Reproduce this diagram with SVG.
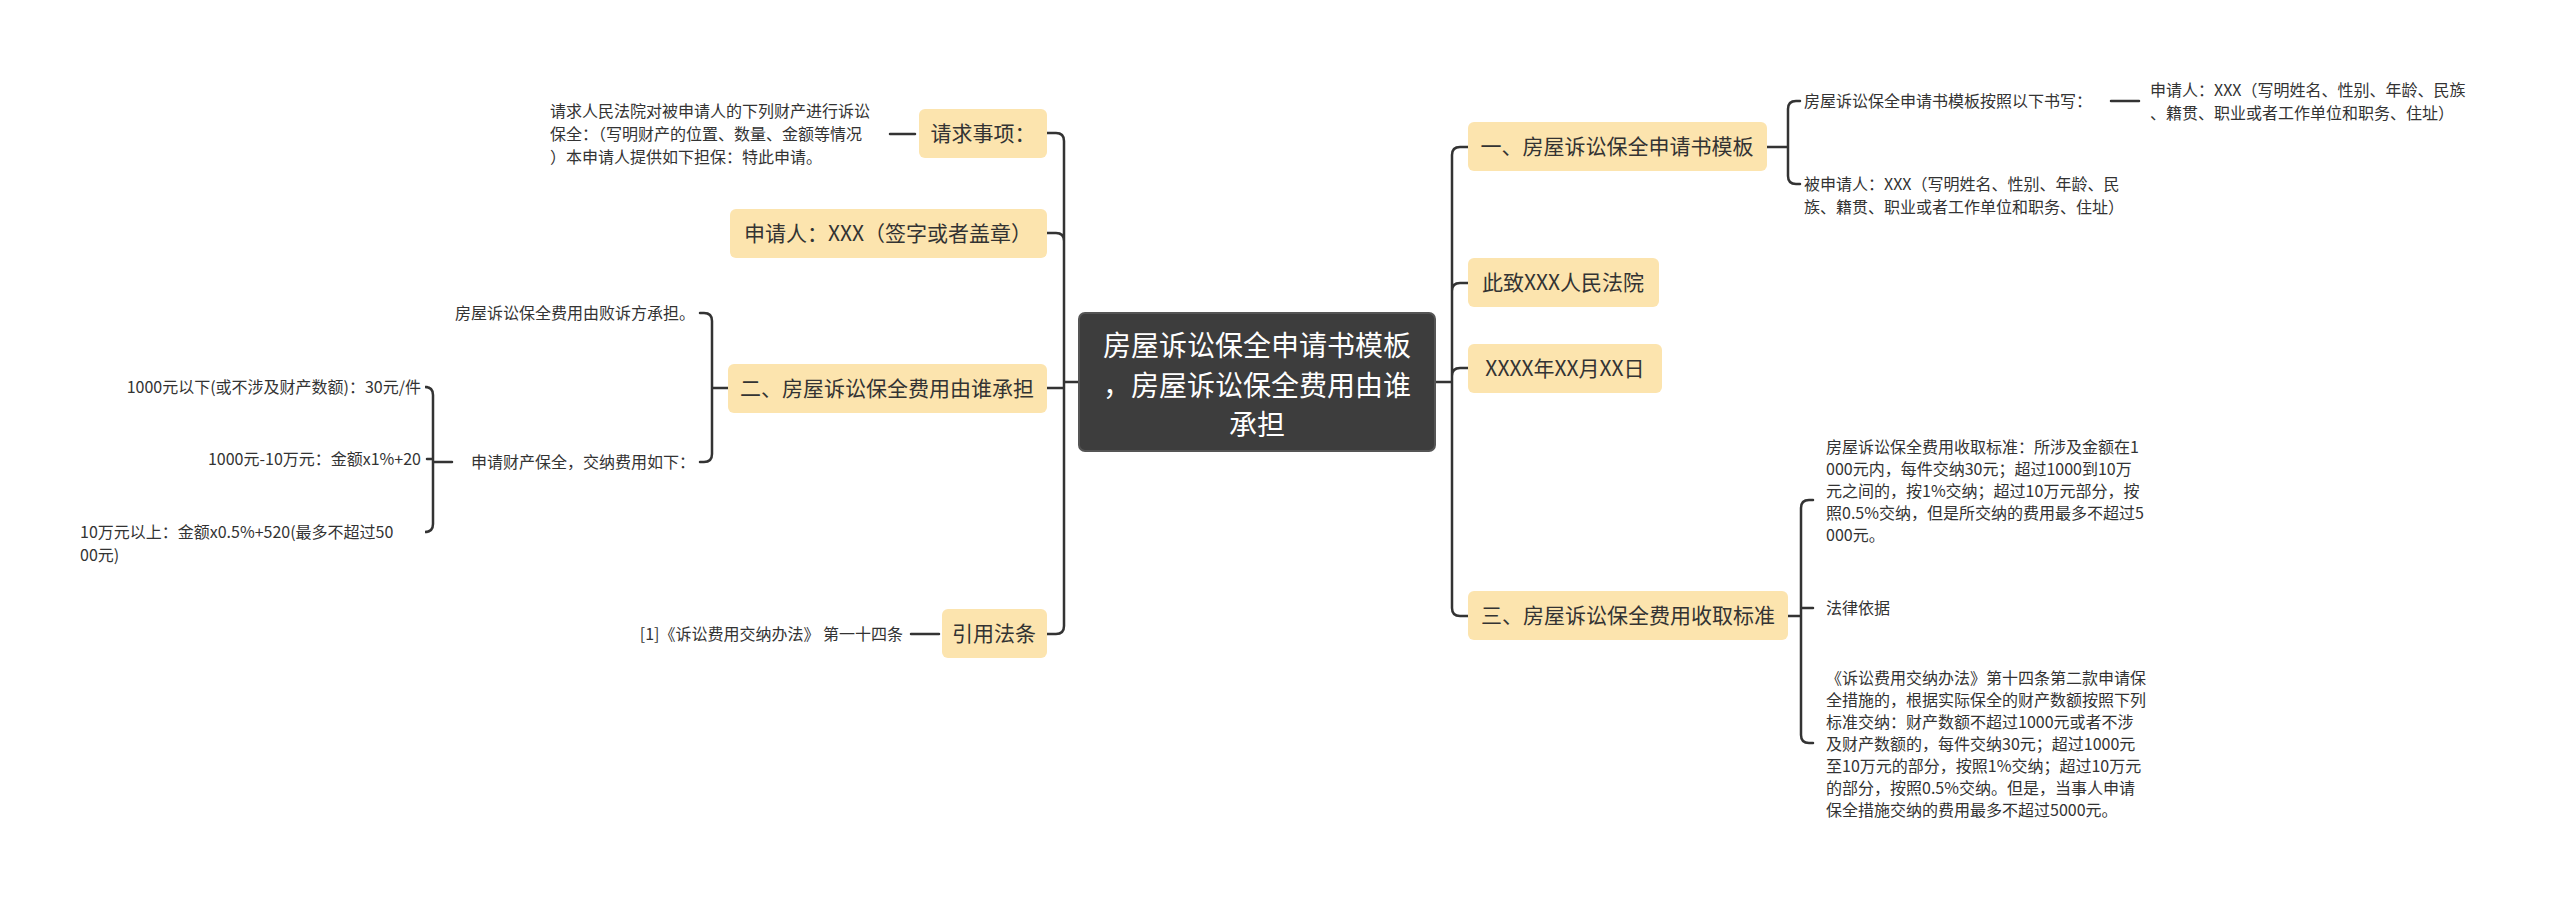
<svg xmlns="http://www.w3.org/2000/svg" width="2560" height="898" viewBox="0 0 2560 898">
<style>
.n{fill:#FCE4AE;}
.nt{font-family:"Noto Sans CJK SC","Noto Sans",sans-serif;font-size:21px;fill:#333;}
.lt{font-family:"Noto Sans CJK SC","Noto Sans",sans-serif;font-size:16px;fill:#333;}
.c{fill:none;stroke:#333;stroke-width:2.5;stroke-linecap:round;}
</style>
<rect width="2560" height="898" fill="#fff"/>
<g id="connectors">
<path class="c" d="M1079,382 H1064 M1064,382 V141 Q1064,133 1056,133 H1047 M1064,382 V241 Q1064,233 1056,233 H1047 M1064,382 V388 H1047 M1064,382 V626 Q1064,634 1056,634 H1047"/>
<path class="c" d="M1435,382 H1452 M1452,382 V155 Q1452,147 1460,147 H1468 M1452,382 V291 Q1452,283 1460,283 H1468 M1452,382 V376 Q1452,368 1460,368 H1468 M1452,382 V608 Q1452,616 1460,616 H1468"/>
<path class="c" d="M1767,147 H1788 M1788,147 V109 Q1788,101 1796,101 H1800 M1788,147 V176 Q1788,184 1796,184 H1800"/>
<path class="c" d="M2111,101 H2139"/>
<path class="c" d="M1788,616 H1801 M1801,616 V508 Q1801,500 1809,500 H1813 M1801,616 V608 H1813 M1801,616 V735 Q1801,743 1809,743 H1813"/>
<path class="c" d="M915,134 H890"/>
<path class="c" d="M728,388 H712 M712,388 V321 Q712,313 704,313 H700 M712,388 V454 Q712,462 704,462 H700"/>
<path class="c" d="M452,462 H433 M433,462 V395 Q433,387 425,387 H427 M433,462 V459 H427 M433,462 V524 Q433,532 425,532 H427"/>
<path class="c" d="M939,634 H911"/>
</g>
<g id="root">
<rect x="1079" y="313" width="356" height="138" rx="6" fill="#3D3D3D" stroke="#555" stroke-width="2"/>
<text x="1257" y="356" text-anchor="middle" font-family="Noto Sans CJK SC,sans-serif" font-size="28" fill="#fff">房屋诉讼保全申请书模板</text>
<text x="1257" y="396" text-anchor="middle" font-family="Noto Sans CJK SC,sans-serif" font-size="28" fill="#fff">，房屋诉讼保全费用由谁</text>
<text x="1257" y="435" text-anchor="middle" font-family="Noto Sans CJK SC,sans-serif" font-size="28" fill="#fff">承担</text>
</g>
<g id="n-qiuqiu"><rect class="n" x="919" y="109" width="128" height="49" rx="6"/><text class="nt" x="983" y="141" text-anchor="middle">请求事项：</text></g>
<g id="n-shenqingren"><rect class="n" x="730" y="209" width="317" height="49" rx="6"/><text class="nt" x="888" y="241" text-anchor="middle">申请人：XXX（签字或者盖章）</text></g>
<g id="n-er"><rect class="n" x="728" y="364" width="319" height="49" rx="6"/><text class="nt" x="887" y="396" text-anchor="middle">二、房屋诉讼保全费用由谁承担</text></g>
<g id="n-yinyong"><rect class="n" x="942" y="609" width="105" height="49" rx="6"/><text class="nt" x="994" y="641" text-anchor="middle">引用法条</text></g>
<g id="n-yi"><rect class="n" x="1468" y="122" width="299" height="49" rx="6"/><text class="nt" x="1617" y="154" text-anchor="middle">一、房屋诉讼保全申请书模板</text></g>
<g id="n-cizhi"><rect class="n" x="1468" y="258" width="191" height="49" rx="6"/><text class="nt" x="1563" y="290" text-anchor="middle">此致XXX人民法院</text></g>
<g id="n-date"><rect class="n" x="1468" y="344" width="194" height="49" rx="6"/><text class="nt" x="1565" y="376" text-anchor="middle">XXXX年XX月XX日</text></g>
<g id="n-san"><rect class="n" x="1468" y="591" width="320" height="49" rx="6"/><text class="nt" x="1628" y="623" text-anchor="middle">三、房屋诉讼保全费用收取标准</text></g>
<g id="leaf-qq"><text class="lt" x="550" y="117">请求人民法院对被申请人的下列财产进行诉讼</text><text class="lt" x="550" y="140">保全：（写明财产的位置、数量、金额等情况</text><text class="lt" x="550" y="163">）本申请人提供如下担保：特此申请。</text></g>
<g id="leaf-er1"><text class="lt" x="695" y="319" text-anchor="end">房屋诉讼保全费用由败诉方承担。</text></g>
<g id="leaf-er2"><text class="lt" x="695" y="468" text-anchor="end">申请财产保全，交纳费用如下：</text></g>
<g id="leaf-f1"><text class="lt" x="421" y="393" text-anchor="end">1000元以下(或不涉及财产数额)：30元/件</text></g>
<g id="leaf-f2"><text class="lt" x="421" y="465" text-anchor="end">1000元-10万元：金额x1%+20</text></g>
<g id="leaf-f3"><text class="lt" x="80" y="538">10万元以上：金额x0.5%+520(最多不超过50</text><text class="lt" x="80" y="561">00元)</text></g>
<g id="leaf-yy"><text class="lt" x="903" y="640" text-anchor="end">[1]《诉讼费用交纳办法》 第一十四条</text></g>
<g id="leaf-yi1"><text class="lt" x="1804" y="107">房屋诉讼保全申请书模板按照以下书写：</text></g>
<g id="leaf-yi1a"><text class="lt" x="2150" y="96">申请人：XXX（写明姓名、性别、年龄、民族</text><text class="lt" x="2150" y="119">、籍贯、职业或者工作单位和职务、住址）</text></g>
<g id="leaf-yi2"><text class="lt" x="1804" y="190">被申请人：XXX（写明姓名、性别、年龄、民</text><text class="lt" x="1804" y="213">族、籍贯、职业或者工作单位和职务、住址）</text></g>
<g id="leaf-san1"><text class="lt" x="1826" y="453">房屋诉讼保全费用收取标准：所涉及金额在1</text><text class="lt" x="1826" y="475">000元内，每件交纳30元；超过1000到10万</text><text class="lt" x="1826" y="497">元之间的，按1%交纳；超过10万元部分，按</text><text class="lt" x="1826" y="519">照0.5%交纳，但是所交纳的费用最多不超过5</text><text class="lt" x="1826" y="541">000元。</text></g>
<g id="leaf-san2"><text class="lt" x="1826" y="614">法律依据</text></g>
<g id="leaf-san3"><text class="lt" x="1826" y="684">《诉讼费用交纳办法》第十四条第二款申请保</text><text class="lt" x="1826" y="706">全措施的，根据实际保全的财产数额按照下列</text><text class="lt" x="1826" y="728">标准交纳：财产数额不超过1000元或者不涉</text><text class="lt" x="1826" y="750">及财产数额的，每件交纳30元；超过1000元</text><text class="lt" x="1826" y="772">至10万元的部分，按照1%交纳；超过10万元</text><text class="lt" x="1826" y="794">的部分，按照0.5%交纳。但是，当事人申请</text><text class="lt" x="1826" y="816">保全措施交纳的费用最多不超过5000元。</text></g>
</svg>
